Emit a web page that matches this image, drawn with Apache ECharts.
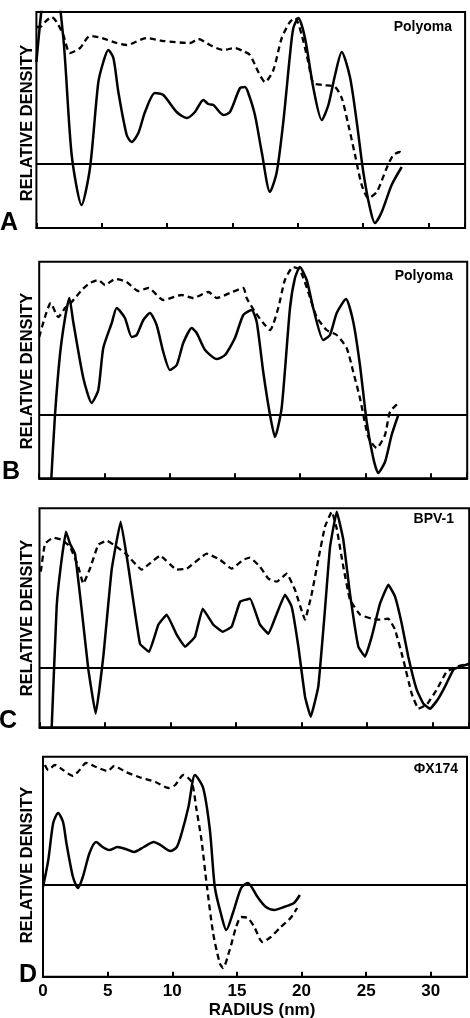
<!DOCTYPE html>
<html><head><meta charset="utf-8">
<script src="https://cdn.jsdelivr.net/npm/echarts/dist/echarts.min.js"></script>
<style>html,body{margin:0;padding:0;background:#fff}#c{width:470px;height:1018px}</style>
</head><body><div id="c"></div>
<script>
// x ticks (nm)
const radiusTicks = [0, 5, 10, 15, 20, 25, 30];
const radiusMax = 32.8;

// Panel A – Polyoma
const polyomaA_solid = [[0,10.2],[1.1,22],[2.06,12.6],[2.7,0.9],[3.46,-4.1],[4.1,-0.4],[4.73,8.1],[5.12,10.2],[5.5,11.4],[5.89,10.6],[6.27,7.2],[6.91,2.9],[7.29,2.2],[7.8,3.1],[8.31,5.2],[9.07,7.1],[9.71,6.9],[10.73,5.2],[11.5,4.6],[12.13,5.2],[12.77,6.4],[13.15,6.0],[13.54,5.9],[14.3,4.9],[14.81,5.2],[15.58,7.6],[15.96,7.7],[16.21,7.1],[16.72,4.9],[17.24,1.2],[17.87,-2.8],[18.39,-0.8],[18.89,4.2],[19.4,10.9],[19.66,13.6],[20.04,14.6],[20.55,12.6],[21.19,7.6],[21.83,4.4],[22.34,5.9],[22.85,8.9],[23.36,11.2],[23.99,8.7],[24.51,4.2],[25.01,-0.8],[25.52,-4.4],[25.9,-5.9],[26.42,-4.8],[27.18,-2.1],[27.95,-0.3]];
const polyomaA_dashed = [[0,13.7],[0.28,13.7],[0.66,14.2],[1.17,14.7],[1.55,14.2],[2.06,12.9],[2.57,11.1],[3.34,11.6],[4.1,12.8],[5.0,12.6],[6.14,12.1],[6.91,11.9],[8.44,12.6],[9.71,12.3],[11.75,12.1],[12.39,12.5],[13.28,11.9],[14.3,11.4],[15.2,11.6],[15.8,11.3],[16.34,10.9],[16.98,9.2],[17.49,8.2],[18.13,9.4],[18.77,12.6],[19.4,14.2],[19.79,14.6],[20.3,12.9],[20.8,10.2],[21.19,8.1],[21.95,7.9],[22.85,7.7],[23.36,6.6],[23.87,3.9],[24.38,0.9],[24.89,-2.1],[25.4,-3.4],[26.04,-2.8],[26.8,-0.4],[27.31,0.9],[27.82,1.2],[28.07,0.9]];

// Panel B – Polyoma
const polyomaB_solid = [[0.9,-7],[1.21,0],[1.59,6.0],[1.98,9.7],[2.31,11.7],[2.61,9.3],[3.38,3.7],[4.02,1.2],[4.53,2.5],[4.91,6.7],[5.56,9.2],[5.94,10.7],[6.57,9.7],[7.09,7.8],[7.47,8.0],[7.98,9.5],[8.49,10.2],[9.0,9.0],[9.51,6.3],[10.02,4.5],[10.54,5.0],[11.04,7.2],[11.69,8.7],[12.07,8.2],[12.71,6.5],[13.6,5.6],[14.24,6.0],[15.0,7.7],[15.64,10.0],[16.28,10.5],[16.67,9.3],[17.17,4.3],[17.69,0],[18.07,-2.2],[18.58,0.7],[19.22,10.7],[19.6,13.7],[19.98,14.8],[20.5,13.5],[21.0,10.7],[21.77,7.5],[22.28,8.0],[22.8,10.2],[23.51,11.6],[24.07,9.3],[24.58,5.0],[25.1,-0.7],[25.6,-4.3],[25.98,-5.8],[26.5,-4.7],[27.01,-2.0],[27.52,0]];
const polyomaB_dashed = [[0,7.8],[0.44,9.8],[0.88,11.2],[1.46,9.8],[1.98,10.7],[2.49,11.3],[3.26,12.5],[3.89,13.2],[4.53,13.5],[5.04,13.0],[5.81,13.6],[6.7,13.3],[7.59,12.4],[8.36,12.7],[9.51,11.5],[10.92,12.0],[11.81,11.7],[12.96,12.3],[13.6,11.7],[14.62,12.2],[15.64,12.7],[15.9,11.7],[16.54,10.3],[17.17,9.2],[17.69,8.5],[18.32,10.7],[18.83,13.5],[19.47,14.8],[19.98,14.5],[20.62,12.3],[21.26,9.8],[22.03,8.5],[22.8,8.0],[23.56,6.7],[24.07,4.3],[24.58,1.7],[25.22,-2.2],[25.86,-3.3],[26.5,-2.0],[26.88,0.3],[27.52,1.2]];

// Panel C – BPV-1
const bpv1_solid = [[0.9,-7],[1.31,6.1],[1.62,10.1],[2.02,13.6],[2.33,12.4],[2.71,11.4],[3.22,5.8],[3.73,-0.2],[4.29,-4.6],[4.87,1.1],[5.51,9.8],[6.2,14.6],[6.78,10.1],[7.67,2.4],[8.36,1.6],[9.07,4.3],[9.71,5.3],[10.47,3.3],[11.11,2.1],[11.87,3.1],[12.46,5.9],[13.27,4.3],[13.98,3.6],[14.67,4.1],[15.31,6.6],[16.07,6.9],[16.83,4.3],[17.47,3.4],[18.11,5.4],[18.74,7.3],[19.25,6.1],[19.76,2.1],[20.27,-2.9],[20.7,-4.9],[21.28,-1.9],[21.79,5.8],[22.18,12.1],[22.69,15.6],[23.19,12.8],[23.7,7.4],[24.34,2.1],[24.85,1.1],[25.36,3.1],[25.99,6.4],[26.63,8.3],[27.14,7.1],[27.65,4.4],[28.15,1.1],[28.79,-2.2],[29.3,-3.6],[29.81,-4.1],[30.44,-3.1],[30.95,-1.9],[31.59,-0.2],[32.1,0.1],[32.8,0.4]];
const bpv1_dashed = [[0.1,9.6],[0.42,12.4],[1.05,13.0],[1.69,12.8],[2.33,12.1],[2.96,10.1],[3.34,8.4],[3.85,9.9],[4.49,12.3],[5.13,12.7],[5.89,12.1],[6.66,11.3],[7.8,9.8],[8.31,10.3],[9.2,11.2],[10.47,9.8],[11.24,9.9],[12.76,11.4],[13.78,10.8],[14.67,9.9],[15.56,10.8],[16.07,11.0],[16.83,10.1],[17.47,8.9],[18.11,8.6],[18.87,9.4],[19.5,7.8],[20.27,4.8],[20.78,7.4],[21.28,10.8],[21.79,14.1],[22.31,15.6],[22.69,13.9],[23.19,10.1],[23.7,6.8],[24.47,5.3],[25.36,4.9],[25.99,4.8],[26.63,4.9],[27.14,3.8],[27.77,0.8],[28.41,-2.6],[28.92,-4.1],[29.56,-3.7],[30.32,-2.2],[31.08,-0.4],[31.85,0.1],[32.8,0.4]];

// Panel D – ΦX174
const phix_solid = [[0,-0.2],[0.41,2.5],[0.79,6.2],[1.17,7.2],[1.55,6.3],[1.81,4.2],[2.32,0.8],[2.7,-0.3],[3.08,0.8],[3.6,3.2],[4.11,4.3],[4.61,3.8],[5.13,3.5],[5.76,3.8],[6.4,3.6],[7.04,3.3],[7.8,3.8],[8.57,4.3],[9.08,4.0],[9.85,3.4],[10.35,3.8],[10.73,5.2],[11.25,7.8],[11.76,11.0],[12.39,9.7],[12.91,5.5],[13.29,-0.2],[13.75,-2.8],[14.18,-4.5],[14.69,-2.8],[15.33,-0.3],[15.84,0.2],[16.6,-1.2],[17.24,-2.2],[17.88,-2.5],[18.65,-2.2],[19.41,-1.8],[19.87,-1.0]];
const phix_dashed = [[0.15,12.0],[0.41,11.5],[0.92,12.0],[1.55,11.5],[2.32,10.9],[2.83,11.5],[3.34,12.2],[4.11,11.8],[5.0,11.4],[5.51,11.9],[6.4,11.3],[7.42,10.8],[8.7,10.3],[9.72,9.7],[10.23,10.0],[10.86,11.0],[11.5,10.3],[11.88,7.5],[12.26,4.5],[12.65,0.2],[13.16,-4.8],[13.67,-7.8],[13.92,-8.3],[14.44,-6.5],[14.94,-4.2],[15.33,-3.2],[15.84,-3.3],[16.35,-4.2],[16.99,-5.7],[17.62,-5.2],[18.39,-4.2],[19.15,-3.3],[19.66,-2.3]];

const panelNames = ['Polyoma', 'Polyoma', 'BPV-1', 'ΦX174'];
const panelLetters = ['A', 'B', 'C', 'D'];
const yMins = [-6.4, -6.33, -5.96, -9.17];
const yMaxs = [15.2, 15.33, 15.94, 12.83];

const solids = [polyomaA_solid, polyomaB_solid, bpv1_solid, phix_solid];
const dashes = [polyomaA_dashed, polyomaB_dashed, bpv1_dashed, phix_dashed];

// layout
const grids = [
  {left: 36.4, top: 12, width: 428.7, height: 216},
  {left: 39.2, top: 261.7, width: 428, height: 216.6},
  {left: 39.5, top: 508.3, width: 429.7, height: 219},
  {left: 43, top: 756.7, width: 428.7, height: 220}
];
const smoothness = [0.25, 0.2, 0.1, 0.25];
const FONT = '"Liberation Sans", Arial, Helvetica, sans-serif';

const option = {
  animation: false,
  backgroundColor: '#fff',
  grid: grids.map(g => Object.assign({show: true, borderColor: '#000', borderWidth: 2, backgroundColor: 'transparent'}, g)),
  xAxis: grids.map((g, i) => ({
    gridIndex: i, type: 'value', min: 0, max: radiusMax, interval: 5,
    axisLine: {show: true, onZero: false, lineStyle: {color: '#000', width: 2}},
    axisTick: {show: true, inside: true, length: 5, lineStyle: {color: '#000', width: 2}},
    axisLabel: {show: i === 3, margin: 6, color: '#000', fontSize: 17, fontWeight: 'bold', fontFamily: FONT,
      formatter: v => (radiusTicks.indexOf(v) >= 0 ? String(v) : '')},
    splitLine: {show: false}
  })),
  yAxis: grids.map((g, i) => ({
    gridIndex: i, type: 'value', min: yMins[i], max: yMaxs[i], show: false, splitLine: {show: false}
  })),
  series: [],
  graphic: []
};

for (let i = 0; i < 4; i++) {
  option.series.push({
    type: 'line', xAxisIndex: i, yAxisIndex: i, data: solids[i], showSymbol: false, smooth: smoothness[i], clip: true,
    lineStyle: {color: '#000', width: 2.5},
    markLine: {silent: true, symbol: 'none', label: {show: false}, lineStyle: {color: '#000', type: 'solid', width: 2}, data: [{yAxis: 0}]}
  });
  option.series.push({
    type: 'line', xAxisIndex: i, yAxisIndex: i, data: dashes[i], showSymbol: false, smooth: smoothness[i], clip: true,
    lineStyle: {color: '#000', width: 2.3, type: [6, 4]}
  });
}

const letterPos = [[9, 223], [11, 472], [8, 721], [28, 975]];
const labelPos = [[27, 123], [27, 371], [27, 618], [27, 865]];
const namePos = [[452, 27], [453, 276], [454, 519], [458, 769]];
for (let i = 0; i < 4; i++) {
  option.graphic.push({type: 'text', x: letterPos[i][0], y: letterPos[i][1],
    style: {text: panelLetters[i], align: 'center', verticalAlign: 'middle', fill: '#000', fontSize: 25, fontWeight: 'bold', fontFamily: FONT}});
  option.graphic.push({type: 'text', x: labelPos[i][0], y: labelPos[i][1], rotation: Math.PI / 2,
    style: {text: 'RELATIVE DENSITY', align: 'center', verticalAlign: 'middle', fill: '#000', fontSize: 16.5, fontWeight: 'bold', fontFamily: FONT}});
  option.graphic.push({type: 'text', x: namePos[i][0], y: namePos[i][1],
    style: {text: panelNames[i], align: 'right', verticalAlign: 'middle', fill: '#000', fontSize: 14, fontWeight: 'bold', fontFamily: FONT}});
}
option.graphic.push({type: 'text', x: 262, y: 1010,
  style: {text: 'RADIUS (nm)', align: 'center', verticalAlign: 'middle', fill: '#000', fontSize: 17, fontWeight: 'bold', fontFamily: FONT}});

const chart = echarts.init(document.getElementById('c'), null, {renderer: 'canvas'});
chart.setOption(option);
</script></body></html>
